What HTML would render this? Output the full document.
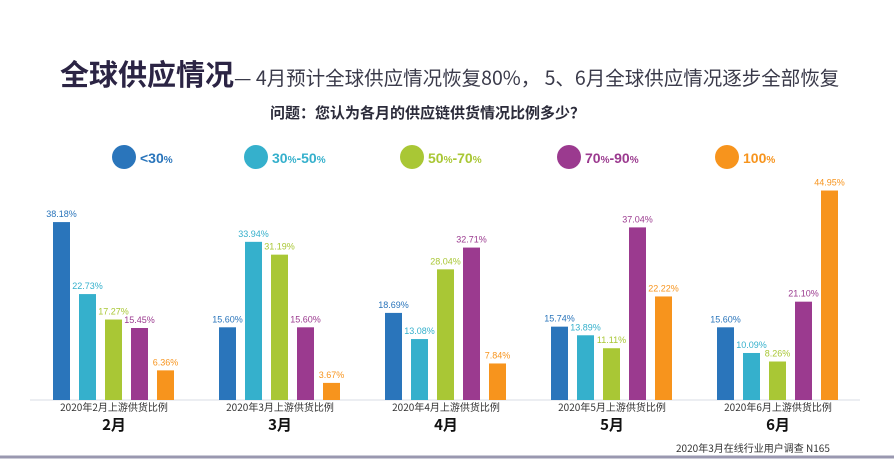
<!DOCTYPE html>
<html><head><meta charset="utf-8"><style>
body{margin:0;width:894px;height:459px;background:#fff;overflow:hidden;font-family:"Liberation Sans","Noto Sans CJK SC",sans-serif;position:relative}
.a{position:absolute;white-space:nowrap}
</style></head><body>
<div class="a" style="left:60px;top:55px;font-size:29px;font-weight:bold;color:#2b2444;font-family:'Noto Sans CJK SC',sans-serif;line-height:36px">全球供应情况<span style="font-size:19.5px;font-weight:normal;color:#3a3a4a">— 4月预计全球供应情况恢复80%， 5、6月全球供应情况逐步全部恢复</span></div>
<div class="a" style="left:270px;top:102px;font-size:15px;font-weight:bold;color:#2b2b3a;font-family:'Noto Sans CJK SC',sans-serif">问题：您认为各月的供应链供货情况比例多少？</div>
<svg class="a" style="left:0;top:0" width="894" height="459" font-family="Liberation Sans, Noto Sans CJK SC, sans-serif">
<g font-weight="bold" font-size="14">
<circle cx="124" cy="157" r="12" fill="#2a75bb"/><text x="140" y="163" fill="#2a75bb">&lt;30<tspan font-size="10">%</tspan></text>
<circle cx="256" cy="157" r="12" fill="#35b0cc"/><text x="272" y="163" fill="#35b0cc">30<tspan font-size="10">%</tspan>-50<tspan font-size="10">%</tspan></text>
<circle cx="412" cy="157" r="12" fill="#a9c735"/><text x="428" y="163" fill="#a9c735">50<tspan font-size="10">%</tspan>-70<tspan font-size="10">%</tspan></text>
<circle cx="569" cy="157" r="12" fill="#9b3a8f"/><text x="585" y="163" fill="#9b3a8f">70<tspan font-size="10">%</tspan>-90<tspan font-size="10">%</tspan></text>
<circle cx="727" cy="157" r="12" fill="#f7941d"/><text x="743" y="163" fill="#f7941d">100<tspan font-size="10">%</tspan></text>
</g>
<line x1="30" y1="400" x2="860" y2="400" stroke="#d8dce4" stroke-width="1"/>
<line x1="0" y1="457" x2="894" y2="457" stroke="#9a98b0" stroke-width="3"/>
<g id="bars" font-size="9" text-anchor="middle"></g>
<g font-size="10" fill="#333" text-anchor="middle" font-family="Noto Sans CJK SC, sans-serif">
<text x="114" y="411">2020年2月上游供货比例</text><text x="280" y="411">2020年3月上游供货比例</text><text x="446" y="411">2020年4月上游供货比例</text><text x="612" y="411">2020年5月上游供货比例</text><text x="778" y="411">2020年6月上游供货比例</text>
</g>
<g font-size="15" font-weight="bold" fill="#111" text-anchor="middle" font-family="Noto Sans CJK SC, sans-serif">
<text x="114" y="430">2月</text><text x="280" y="430">3月</text><text x="446" y="430">4月</text><text x="612" y="430">5月</text><text x="778" y="430">6月</text>
</g>
<text x="676" y="452" font-size="10" fill="#333" font-family="Noto Sans CJK SC, sans-serif">2020年3月在线行业用户调查  N165</text>
</svg>
<script>
var d=[[38.18,22.73,17.27,15.45,6.36],[15.60,33.94,31.19,15.60,3.67],[18.69,13.08,28.04,32.71,7.84],[15.74,13.89,11.11,37.04,22.22],[15.60,10.09,8.26,21.10,44.95]];
var c=["#2a75bb","#35b0cc","#a9c735","#9b3a8f","#f7941d"];
var g=document.getElementById("bars"),s="";
for(var i=0;i<5;i++)for(var j=0;j<5;j++){var v=d[i][j],h=v*4.66,x=53+i*166+j*26,y=400-h;
s+='<rect x="'+x+'" y="'+y+'" width="17" height="'+h+'" fill="'+c[j]+'"/>';
s+='<text x="'+(x+8.5)+'" y="'+(y-5)+'" fill="'+c[j]+'">'+v.toFixed(2)+'%</text>';}
g.innerHTML=s;
</script>
</body></html>
